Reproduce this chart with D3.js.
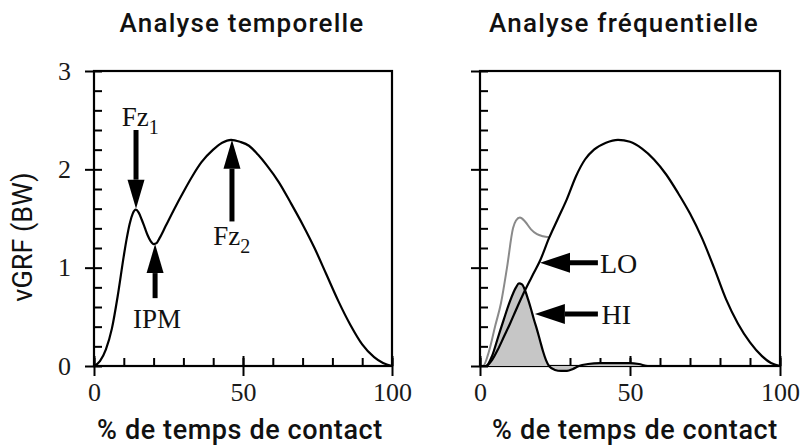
<!DOCTYPE html>
<html><head><meta charset="utf-8">
<script src="https://cdn.jsdelivr.net/npm/d3@7"></script>
<style>body{margin:0;background:#fff}</style>
</head><body>
<svg id="chart" width="800" height="445"></svg>
<script>
// ---------- DATA ----------
const panelTitles = ["Analyse temporelle", "Analyse fréquentielle"];
const xAxisTitle = "% de temps de contact";
const yAxisTitle = "vGRF (BW)";
const yMajorTicks = [0, 1, 2, 3];
const yMinorTicks = [0, 0.2, 0.4, 0.6, 0.8, 1, 1.2, 1.4, 1.6, 1.8, 2, 2.2, 2.4, 2.6, 2.8, 3];
const xMajorTicks = [0, 50, 100];
const xMinorTicks = [0, 10, 20, 30, 40, 50, 60, 70, 80, 90, 100];

// Left panel: total vertical ground reaction force
const pctTotal = [0, 2, 4, 6, 8, 10, 11, 12, 13, 14, 15, 16, 17, 18, 19, 20, 21, 22, 24, 27, 30, 33, 36, 40, 43, 46, 49, 52, 55, 58, 62, 66, 70, 74, 78, 82, 86, 90, 94, 97, 100];
const vgrfTotal = [0, 0.05, 0.17, 0.38, 0.72, 1.12, 1.3, 1.45, 1.55, 1.59, 1.56, 1.49, 1.41, 1.33, 1.27, 1.24, 1.25, 1.3, 1.42, 1.6, 1.77, 1.93, 2.07, 2.2, 2.27, 2.3, 2.28, 2.24, 2.15, 2.04, 1.87, 1.66, 1.44, 1.2, 0.93, 0.66, 0.42, 0.22, 0.09, 0.03, 0];

// Right panel: original signal (grey, early part), low-frequency (LO) and high-frequency (HI) components
const pctRaw = [0, 1, 3, 5, 7, 9, 11, 12, 13.3, 15, 17, 19, 21, 23];
const vgrfRaw = [0, 0, 0.15, 0.4, 0.64, 1.0, 1.4, 1.48, 1.51, 1.47, 1.39, 1.34, 1.32, 1.31];
const pctLow = [0, 2, 4, 6, 8, 10, 12, 15, 18, 20, 23, 26, 29, 32, 35, 38, 42, 46, 50, 54, 58, 62, 66, 70, 74, 78, 82, 86, 90, 94, 97, 100];
const vgrfLow = [0, 0, 0.06, 0.17, 0.3, 0.43, 0.57, 0.77, 0.95, 1.07, 1.3, 1.5, 1.7, 1.93, 2.1, 2.2, 2.27, 2.3, 2.28, 2.21, 2.1, 1.95, 1.76, 1.55, 1.3, 1.0, 0.68, 0.43, 0.24, 0.1, 0.03, 0];
const pctHigh = [0, 2, 4, 6, 8, 10, 12, 13, 14, 15, 16, 17, 18, 19, 20, 21, 22, 23, 25, 27, 29, 31, 33, 36, 40, 45, 50, 53, 56, 60, 100];
const vgrfHigh = [0, 0, 0.1, 0.29, 0.48, 0.66, 0.8, 0.84, 0.83, 0.77, 0.68, 0.58, 0.47, 0.37, 0.26, 0.15, 0.06, 0.0, -0.04, -0.05, -0.05, -0.03, 0, 0.02, 0.03, 0.03, 0.03, 0.02, 0, 0, 0];

// Annotations (data coordinates)
const arrowsLeft = [
  {label: "Fz", sub: "1", x: 14.1, yTip: 1.6, yTail: 2.4, lx: 9.3, ly: 2.44},
  {label: "Fz", sub: "2", x: 46.3, yTip: 2.3, yTail: 1.47, lx: 40, ly: 1.23},
  {label: "IPM", sub: "", x: 20.5, yTip: 1.24, yTail: 0.69, lx: 13.1, ly: 0.39}
];
const arrowsRight = [
  {label: "LO", y: 1.05, xTip: 20, xTail: 39.3, lx: 40, ly: 0.95},
  {label: "HI", y: 0.53, xTip: 18.3, xTail: 39.3, lx: 40.5, ly: 0.43}
];

// ---------- DRAW ----------
const svg = d3.select("#chart");
const sans = "Roboto, 'DejaVu Sans', sans-serif";
const serif = "'Liberation Serif', 'Times New Roman', serif";

const yScale = d3.scaleLinear().domain([0, 3]).range([366, 71]);
const xLeft = d3.scaleLinear().domain([0, 100]).range([94, 392]);
const xRight = d3.scaleLinear().domain([0, 100]).range([480, 780]);

function drawFrame(x, y, showYLabels) {
  const g = svg.append("g");
  g.append("g").attr("transform", `translate(${x(0)},0)`)
    .call(d3.axisRight(y).tickValues(yMinorTicks).tickSize(8).tickFormat(""));
  g.append("g").attr("transform", `translate(${x(0)},0)`)
    .call(d3.axisLeft(y).tickValues(yMajorTicks).tickSize(9).tickPadding(14)
      .tickFormat(showYLabels ? d3.format("d") : () => ""));
  g.append("g").attr("transform", `translate(0,${y(0)})`)
    .call(d3.axisTop(x).tickValues(xMinorTicks).tickSize(8).tickFormat(""));
  g.append("g").attr("transform", `translate(0,${y(0)})`)
    .call(d3.axisTop(x).tickValues(xMajorTicks).tickSize(10).tickFormat(""));
  g.append("g").attr("transform", `translate(0,${y(0)})`)
    .call(d3.axisBottom(x).tickValues(xMajorTicks).tickSize(10).tickPadding(7).tickFormat(d3.format("d")));
  g.selectAll(".domain").remove();
  g.selectAll(".tick line").attr("stroke", "#000").attr("stroke-width", 2);
  g.selectAll(".tick text").attr("font-family", serif).attr("font-size", 26).attr("fill", "#1a1a1a");
  g.append("rect")
    .attr("x", x(0)).attr("y", y(3))
    .attr("width", x(100) - x(0)).attr("height", y(0) - y(3))
    .attr("fill", "none").attr("stroke", "#000").attr("stroke-width", 2.2);
  return g;
}

function lineOf(x, y, xs, ys, color, w) {
  const pts = xs.map((d, i) => [d, ys[i]]);
  svg.append("path").datum(pts)
    .attr("d", d3.line().x(d => x(d[0])).y(d => yScale(d[1])).curve(d3.curveMonotoneX))
    .attr("fill", "none").attr("stroke", color).attr("stroke-width", w)
    .attr("stroke-linejoin", "round").attr("stroke-linecap", "round");
}

// ----- Left panel -----
drawFrame(xLeft, yScale, true);
lineOf(xLeft, yScale, pctTotal, vgrfTotal, "#000", 2.2);

arrowsLeft.forEach(a => {
  const xp = xLeft(a.x), tip = yScale(a.yTip), tail = yScale(a.yTail);
  const dir = tail < tip ? 1 : -1;
  const headLen = 29, halfW = 8.5;
  const base = tip - dir * headLen;
  svg.append("line").attr("x1", xp).attr("x2", xp).attr("y1", tail).attr("y2", base)
    .attr("stroke", "#000").attr("stroke-width", 5);
  svg.append("path")
    .attr("d", `M${xp},${tip} L${xp - halfW},${base} L${xp + halfW},${base} Z`)
    .attr("fill", "#000");
  const t = svg.append("text").attr("x", xLeft(a.lx)).attr("y", yScale(a.ly))
    .attr("font-family", serif).attr("font-size", 27).attr("fill", "#111").text(a.label);
  if (a.sub) t.append("tspan").attr("font-size", 20).attr("dy", 8).text(a.sub);
});

// ----- Right panel -----
drawFrame(xRight, yScale, false);
const fillPts = pctHigh.filter(d => d <= 60).map((d, i) => [d, vgrfHigh[i]]);
svg.append("path").datum(fillPts)
  .attr("d", d3.area().x(d => xRight(d[0])).y0(yScale(0)).y1(d => yScale(d[1])).curve(d3.curveMonotoneX))
  .attr("fill", "#c6c6c6");
lineOf(xRight, yScale, pctRaw, vgrfRaw, "#8a8a8a", 2);
lineOf(xRight, yScale, pctHigh, vgrfHigh, "#000", 2.2);
lineOf(xRight, yScale, pctLow, vgrfLow, "#000", 2.2);

arrowsRight.forEach(a => {
  const yp = yScale(a.y), tip = xRight(a.xTip), tail = xRight(a.xTail);
  const headLen = 30, halfH = 10;
  const base = tip + headLen;
  svg.append("line").attr("x1", base).attr("x2", tail).attr("y1", yp).attr("y2", yp)
    .attr("stroke", "#000").attr("stroke-width", 5);
  svg.append("path")
    .attr("d", `M${tip},${yp} L${base},${yp - halfH} L${base},${yp + halfH} Z`)
    .attr("fill", "#000");
  svg.append("text").attr("x", xRight(a.lx)).attr("y", yScale(a.ly))
    .attr("font-family", serif).attr("font-size", 28).attr("fill", "#111").text(a.label);
});

// ----- Titles & axis labels -----
[[242, panelTitles[0]], [624, panelTitles[1]]].forEach(([cx, txt]) => {
  svg.append("text").attr("x", cx).attr("y", 32).attr("text-anchor", "middle")
    .attr("font-family", sans).attr("font-size", 26).attr("font-weight", 500).attr("letter-spacing", 1.2)
    .attr("fill", "#111").text(txt);
});
[240, 635].forEach(cx => {
  svg.append("text").attr("x", cx).attr("y", 439).attr("text-anchor", "middle")
    .attr("font-family", sans).attr("font-size", 27).attr("font-weight", 500).attr("letter-spacing", 0.6)
    .attr("fill", "#111").text(xAxisTitle);
});
svg.append("text").attr("transform", "translate(32,237) rotate(-90)")
  .attr("text-anchor", "middle").attr("font-family", sans).attr("font-size", 27)
  .attr("fill", "#111").text(yAxisTitle);
</script>
</body></html>
